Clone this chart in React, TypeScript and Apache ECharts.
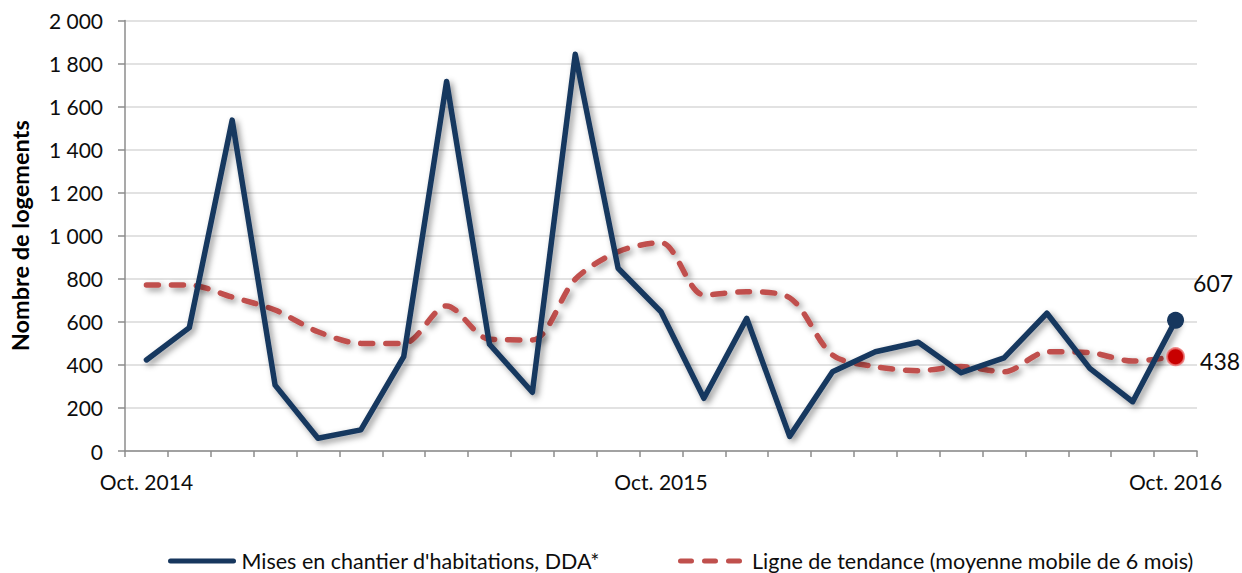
import React, { useEffect, useRef } from "react";
import * as echarts from "echarts";

const months = [
  "Oct. 2014", "Nov. 2014", "Déc. 2014", "Janv. 2015", "Févr. 2015", "Mars 2015", "Avr. 2015",
  "Mai 2015", "Juin 2015", "Juil. 2015", "Août 2015", "Sept. 2015", "Oct. 2015", "Nov. 2015",
  "Déc. 2015", "Janv. 2016", "Févr. 2016", "Mars 2016", "Avr. 2016", "Mai 2016", "Juin 2016",
  "Juil. 2016", "Août 2016", "Sept. 2016", "Oct. 2016",
];

const miseEnChantier = [
  423, 573, 1537, 306, 59, 98, 438, 1717, 496, 273, 1843, 849, 647, 245, 616, 68, 368, 461, 505,
  364, 433, 640, 384, 229, 607,
];

const tendance = [
  771, 771, 715, 655, 554, 500, 500, 674, 519, 516, 798, 926, 968, 725, 740, 712, 446, 392, 373,
  392, 368, 461, 457, 418, 438,
];

const seriesNames = [
  "Mises en chantier d'habitations, DDA*",
  "Ligne de tendance (moyenne mobile de 6 mois)",
];

const yTicks = [0, 200, 400, 600, 800, 1000, 1200, 1400, 1600, 1800, 2000];

const FONT = "Lato";
const BLUE = "#17375e";
const RED = "#c0504d";
const RED_DOT = "#c80000";
const TEXT = "#0d0d0d";

const fmt = (v: number) => String(v).replace(/\B(?=(\d{3})+(?!\d))/g, " ");

const solidIcon =
  "path://M2.5,0 L65.5,0 A2.5,2.5 0 0 1 65.5,5 L2.5,5 A2.5,2.5 0 0 1 2.5,0 Z";
const dashIcon =
  "path://M2.5,0 L13.5,0 A2.5,2.5 0 0 1 13.5,5 L2.5,5 A2.5,2.5 0 0 1 2.5,0 Z " +
  "M26.5,0 L37.5,0 A2.5,2.5 0 0 1 37.5,5 L26.5,5 A2.5,2.5 0 0 1 26.5,0 Z " +
  "M50.5,0 L61.5,0 A2.5,2.5 0 0 1 61.5,5 L50.5,5 A2.5,2.5 0 0 1 50.5,0 Z";

export default function App() {
  const ref = useRef<HTMLDivElement>(null);
  useEffect(() => {
    if (!ref.current) return;
    const chart = echarts.init(ref.current, null, { renderer: "svg" });
    const last = months.length - 1;
    const shadow = {
      shadowColor: "rgba(0,0,0,0.42)",
      shadowBlur: 6,
      shadowOffsetX: 3,
      shadowOffsetY: 3,
    };
    const legendText = { fontFamily: FONT, fontSize: 21.5, color: TEXT };
    chart.setOption({
      animation: false,
      backgroundColor: "#ffffff",
      textStyle: { fontFamily: FONT },
      grid: { left: 121, right: 45, top: 20.5, bottom: 122, containLabel: false },
      legend: [
        {
          left: 163,
          top: 545,
          itemWidth: 69,
          itemHeight: 5,
          data: [{ name: seriesNames[0], icon: solidIcon }],
          textStyle: legendText,
        },
        {
          left: 673,
          top: 545,
          itemWidth: 64,
          itemHeight: 5,
          data: [{ name: seriesNames[1], icon: dashIcon }],
          textStyle: { ...legendText, padding: [0, 0, 0, 5] },
        },
      ],
      xAxis: {
        type: "category",
        data: months,
        boundaryGap: true,
        axisLine: { lineStyle: { color: "#8c8c8c", width: 1.5 } },
        axisTick: { show: true, interval: 0, length: 6, lineStyle: { color: "#8c8c8c", width: 1.5 } },
        axisLabel: {
          interval: 11,
          margin: 20,
          fontFamily: FONT,
          fontSize: 21,
          color: TEXT,
        },
        splitLine: { show: false },
      },
      yAxis: {
        type: "value",
        min: yTicks[0],
        max: yTicks[yTicks.length - 1],
        interval: 200,
        name: "Nombre de logements",
        nameLocation: "middle",
        nameRotate: 90,
        nameGap: 93,
        nameTextStyle: { fontFamily: FONT, fontSize: 23.5, fontWeight: "bold", color: "#000" },
        axisLine: { show: true, lineStyle: { color: "#8c8c8c", width: 1.5 } },
        axisTick: { show: true, length: 7, lineStyle: { color: "#8c8c8c", width: 1.5 } },
        axisLabel: {
          margin: 22,
          fontFamily: FONT,
          fontSize: 21,
          color: TEXT,
          formatter: (v: number) => fmt(v),
        },
        splitLine: { lineStyle: { color: "#d9d9d9", width: 1.5 } },
      },
      series: [
        {
          name: seriesNames[0],
          type: "line",
          data: miseEnChantier,
          symbol: "none",
          lineStyle: { color: BLUE, width: 5.5, join: "round", cap: "round", ...shadow },
          itemStyle: { color: BLUE },
          z: 3,
        },
        {
          name: seriesNames[1],
          type: "line",
          data: tendance,
          symbol: "none",
          smooth: 0.3,
          lineStyle: { color: RED, width: 5.5, type: [12, 13], cap: "round", join: "round", ...shadow },
          itemStyle: { color: RED },
          z: 2,
        },
        {
          name: "endBlue",
          type: "scatter",
          data: [[last, miseEnChantier[last]]],
          symbol: "circle",
          symbolSize: 17,
          itemStyle: { color: BLUE, opacity: 1 },
          label: {
            show: true,
            position: "right",
            offset: [4, -37],
            fontFamily: FONT,
            fontSize: 23,
            color: TEXT,
            formatter: () => String(miseEnChantier[last]),
          },
          z: 5,
        },
        {
          name: "endRed",
          type: "scatter",
          data: [[last, tendance[last]]],
          symbol: "circle",
          symbolSize: 17,
          itemStyle: {
            color: RED_DOT,
            opacity: 1,
            borderColor: "rgba(235,110,110,0.8)",
            borderWidth: 2,
          },
          label: {
            show: true,
            position: "right",
            offset: [10, 4],
            fontFamily: FONT,
            fontSize: 23,
            color: TEXT,
            formatter: () => String(tendance[last]),
          },
          z: 5,
        },
      ],
    });
    return () => chart.dispose();
  }, []);
  return (
    <div
      ref={ref}
      style={{ position: "fixed", left: 0, top: 0, width: 1242, height: 573, background: "#fff" }}
    />
  );
}
